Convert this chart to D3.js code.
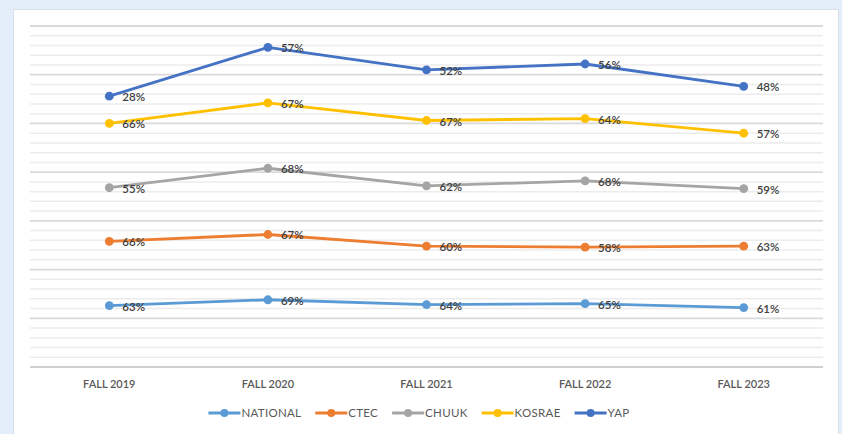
<!DOCTYPE html>
<html>
<head>
<meta charset="utf-8">
<script src="https://cdn.jsdelivr.net/npm/d3@7"></script>
<style>
  html, body { margin: 0; padding: 0; background: #e4eefa; }
  svg { display: block; }
</style>
</head>
<body>
<div id="chart"></div>
<script>
// data
const categories = ["FALL 2019", "FALL 2020", "FALL 2021", "FALL 2022", "FALL 2023"];
const seriesNames = ["NATIONAL", "CTEC", "CHUUK", "KOSRAE", "YAP"];
const national = [63, 69, 64, 65, 61];
const ctec = [66, 67, 60, 58, 63];
const chuuk = [55, 68, 62, 68, 59];
const kosrae = [66, 67, 67, 64, 57];
const yap = [28, 57, 52, 56, 48];
const colors = ["#5b9bd5", "#ed7d31", "#a5a5a5", "#ffc000", "#4472c4"];

const width = 842, height = 434;
const margin = {top: 26, right: 19, bottom: 67, left: 30};
const textColor = "#595959";
const font = "Lato, 'Open Sans', sans-serif";

const svg = d3.select('#chart').append('svg')
  .attr('width', width)
  .attr('height', height);

// white panel
svg.append('rect')
  .attr('x', 13.5).attr('y', 9.5)
  .attr('width', 825).attr('height', 430)
  .attr('fill', '#ffffff')
  .attr('stroke', '#d9dfe7');

const x = d3.scaleBand()
  .domain(categories)
  .range([margin.left, width - margin.right]);

const y = d3.scaleLinear()
  .domain([0, 350])
  .range([height - margin.bottom, margin.top]);

// stacked line chart: cumulative sums
const raw = [national, ctec, chuuk, kosrae, yap];
const stacked = [];
raw.forEach((vals, i) => {
  stacked.push(vals.map((v, j) => v + (i > 0 ? stacked[i - 1][j] : 0)));
});

// gridlines
const minor = d3.range(0, 351, 10).filter(d => d % 50 !== 0);
const major = d3.range(0, 351, 50);
svg.append('g').selectAll('line').data(minor).join('line')
  .attr('x1', margin.left).attr('x2', width - margin.right)
  .attr('y1', d => y(d)).attr('y2', d => y(d))
  .attr('stroke', '#ececec').attr('stroke-width', 1.5);
svg.append('g').selectAll('line').data(major).join('line')
  .attr('x1', margin.left).attr('x2', width - margin.right)
  .attr('y1', d => y(d)).attr('y2', d => y(d))
  .attr('stroke', d => d === 0 ? '#cfcfcf' : '#dadada').attr('stroke-width', 1.8);

// x axis labels
svg.append('g').selectAll('text').data(categories).join('text')
  .attr('x', d => x(d) + x.bandwidth() / 2)
  .attr('y', y(0) + 21)
  .attr('text-anchor', 'middle')
  .attr('fill', textColor)
  .style('font-family', font)
  .style('font-size', '11px')
  .style('font-weight', 600)
  .text(d => d);

const cx = d => x(d) + x.bandwidth() / 2;
const line = d3.line()
  .x((d, j) => cx(categories[j]))
  .y(d => y(d));

stacked.forEach((vals, i) => {
  const g = svg.append('g');
  g.append('path')
    .datum(vals)
    .attr('d', line)
    .attr('fill', 'none')
    .attr('stroke', colors[i])
    .attr('stroke-width', 2.8)
    .attr('stroke-linejoin', 'round');
  g.selectAll('circle').data(vals).join('circle')
    .attr('cx', (d, j) => cx(categories[j]))
    .attr('cy', d => y(d))
    .attr('r', 4.4)
    .attr('fill', colors[i]);
});

// data labels (after all lines so they sit on top)
stacked.forEach((vals, i) => {
  svg.append('g').selectAll('text').data(vals).join('text')
    .attr('x', (d, j) => cx(categories[j]) + 13)
    .attr('y', d => y(d) + 5)
    .attr('fill', '#404040')
    .style('font-family', font)
    .style('font-size', '11.5px')
    .style('font-weight', 600)
    .text((d, j) => raw[i][j] + '%');
});

// legend
const legend = svg.append('g');
let lx = 0;
seriesNames.forEach((name, i) => {
  const it = legend.append('g');
  it.append('line')
    .attr('x1', 0).attr('x2', 32).attr('y1', 0).attr('y2', 0)
    .attr('stroke', colors[i]).attr('stroke-width', 2.8);
  it.append('circle').attr('cx', 16).attr('cy', 0).attr('r', 4).attr('fill', colors[i]);
  const t = it.append('text')
    .attr('x', 33).attr('y', 4)
    .attr('fill', textColor)
    .style('font-family', font)
    .style('font-size', '11.5px')
    .style('letter-spacing', '0.3px')
    .text(name);
  const w = 33 + t.node().getComputedTextLength();
  it.attr('transform', `translate(${lx},0)`);
  lx += w + 14;
});
const totalW = lx - 14;
legend.attr('transform', `translate(${(width - totalW) / 2 - 2},${413})`);
</script>
</body>
</html>
